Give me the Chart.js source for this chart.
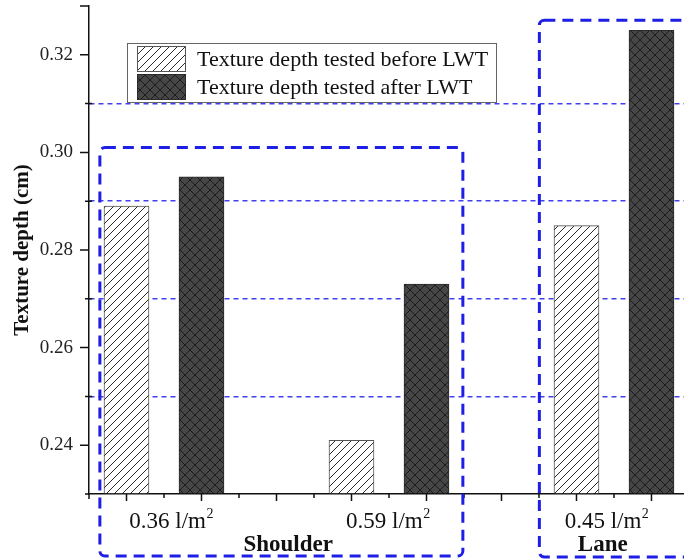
<!DOCTYPE html>
<html>
<head>
<meta charset="utf-8">
<script src="https://cdn.jsdelivr.net/npm/chart.js@4/dist/chart.umd.min.js"></script>
<style>
  html, body { margin: 0; padding: 0; background: #fff; overflow: hidden; }
  #wrap { width: 684px; height: 560px; position: relative; }
</style>
</head>
<body>
<div id="wrap"><canvas id="c" width="684" height="560"></canvas></div>
<script>
// Application rates, grouped by pavement location
const categories = ['0.36 l/m²', '0.59 l/m²', '0.45 l/m²'];
const groupNames = ['Shoulder', 'Lane'];
const seriesNames = ['Texture depth tested before LWT', 'Texture depth tested after LWT'];

// Texture depth (cm)
const beforeLWT = [0.289, 0.241, 0.285];
const afterLWT = [0.295, 0.273, 0.325];

// Value axis
const yLabelled = [0.24, 0.26, 0.28, 0.30, 0.32];
const yDashed = [0.25, 0.27, 0.29, 0.31];
const Y_MIN = 0.23, Y_MAX = 0.33;

// Horizontal layout in axis units (one unit per minor tick)
const X_MAX = 15.867;
const barUnit = (i, s) => 1 + 6 * i + 2 * s;          // before: 1,7,13  after: 3,9,15
const labelUnits = [2.19, 7.97, 13.8];
const groupUnits = [5.31, 13.7];

const SERIF = '"Liberation Serif", "Times New Roman", serif';
const canvas = document.getElementById('c');
const ctx = canvas.getContext('2d');

function hatchPattern() {
  const s = 8, t = document.createElement('canvas');
  t.width = t.height = s;
  const g = t.getContext('2d');
  g.fillStyle = '#ffffff';
  g.fillRect(0, 0, s, s);
  g.strokeStyle = '#2a2a2a';
  g.lineWidth = 1;
  g.beginPath();
  g.moveTo(0, s); g.lineTo(s, 0);
  g.moveTo(-2, 2); g.lineTo(2, -2);
  g.moveTo(s - 2, s + 2); g.lineTo(s + 2, s - 2);
  g.stroke();
  return ctx.createPattern(t, 'repeat');
}

function crossPattern() {
  const s = 10, t = document.createElement('canvas');
  t.width = t.height = s;
  const g = t.getContext('2d');
  g.fillStyle = '#464646';
  g.fillRect(0, 0, s, s);
  g.strokeStyle = '#1c1c1c';
  g.lineWidth = 1;
  g.beginPath();
  g.moveTo(0, 0); g.lineTo(s, s);
  g.moveTo(0, s); g.lineTo(s, 0);
  g.stroke();
  return ctx.createPattern(t, 'repeat');
}

const hatch = hatchPattern();
const cross = crossPattern();

function isIn(list, v) { return list.some(x => Math.abs(x - v) < 1e-6); }

function dashedBox(c, x1, y1, x2, y2, r) {
  c.save();
  c.strokeStyle = '#1e1ee6';
  c.lineWidth = 3;
  c.setLineDash([11, 7]);
  c.beginPath();
  c.roundRect(x1, y1, x2 - x1, y2 - y1, r);
  c.stroke();
  c.restore();
}

const decor = {
  id: 'decor',
  afterDraw(chart) {
    const c = chart.ctx;
    const xs = chart.scales.x, ys = chart.scales.y;
    const axisX = xs.left, axisY = ys.bottom;

    // tick marks on the value axis
    c.save();
    c.strokeStyle = '#111';
    c.lineWidth = 1.5;
    c.beginPath();
    ys.ticks.forEach(t => {
      const y = ys.getPixelForValue(t.value);
      if (isIn(yLabelled, t.value) || Math.abs(t.value - Y_MAX) < 1e-6) {
        c.moveTo(axisX - 9, y); c.lineTo(axisX, y);
      } else if (isIn(yDashed, t.value)) {
        c.moveTo(axisX - 4, y); c.lineTo(axisX + 3, y);
      }
    });
    // tick marks on the category axis
    for (let u = 1; u <= Math.floor(X_MAX); u++) {
      const x = xs.getPixelForValue(u);
      c.moveTo(x, axisY); c.lineTo(x, axisY + (u % 2 ? 7 : 4));
    }
    c.moveTo(axisX - 4, axisY); c.lineTo(axisX, axisY);
    c.moveTo(axisX, axisY); c.lineTo(axisX, axisY + 5);
    c.stroke();
    c.restore();

    // rate labels with superscript
    c.save();
    c.fillStyle = '#111';
    c.textBaseline = 'alphabetic';
    categories.forEach((lab, i) => {
      const main = lab.replace('²', '');
      c.font = '23px ' + SERIF;
      const w1 = c.measureText(main).width;
      c.font = '14px ' + SERIF;
      const w2 = c.measureText('2').width;
      const cx = xs.getPixelForValue(labelUnits[i]);
      const x0 = cx - (w1 + w2) / 2;
      c.textAlign = 'left';
      c.font = '23px ' + SERIF;
      c.fillText(main, x0, 528);
      c.font = '14px ' + SERIF;
      c.fillText('2', x0 + w1 + 0.5, 518);
    });
    // location labels
    c.font = 'bold 23px ' + SERIF;
    c.textAlign = 'center';
    groupNames.forEach((g, i) => {
      c.fillText(g, xs.getPixelForValue(groupUnits[i]), 551);
    });
    c.restore();

    // legend
    c.save();
    const lx = 127.5, ly = 43.5, lw = 369, lh = 59;
    c.fillStyle = '#fff';
    c.fillRect(lx, ly, lw, lh);
    c.strokeStyle = '#666';
    c.lineWidth = 1;
    c.strokeRect(lx, ly, lw, lh);
    chart.data.datasets.forEach((ds, i) => {
      const sy = ly + 2.5 + i * 28;
      c.fillStyle = ds.backgroundColor;
      c.fillRect(137, sy, 49, 26);
      c.strokeStyle = ds.borderColor;
      c.strokeRect(137.5, sy + 0.5, 48, 25);
      c.fillStyle = '#111';
      c.font = '22px ' + SERIF;
      c.textAlign = 'left';
      c.textBaseline = 'alphabetic';
      c.fillText(ds.label, 197, 66 + i * 27.5);
    });
    c.restore();

    // location frames
    dashedBox(c, xs.getPixelForValue(0.29), ys.getPixelForValue(0.301),
              xs.getPixelForValue(9.97), chart.height - 4, 5);
    dashedBox(c, xs.getPixelForValue(12.01), ys.getPixelForValue(0.3271),
              chart.width + 20, chart.height - 3, 5);
  }
};

new Chart(ctx, {
  type: 'bar',
  data: {
    datasets: [
      {
        label: seriesNames[0],
        data: beforeLWT.map((v, i) => ({ x: barUnit(i, 0), y: v })),
        backgroundColor: hatch,
        borderColor: '#555',
        borderWidth: 1,
        borderSkipped: 'start',
        barThickness: 45,
        grouped: false,
        base: Y_MIN
      },
      {
        label: seriesNames[1],
        data: afterLWT.map((v, i) => ({ x: barUnit(i, 1), y: v })),
        backgroundColor: cross,
        borderColor: '#2a2a2a',
        borderWidth: 1,
        borderSkipped: 'start',
        barThickness: 45,
        grouped: false,
        base: Y_MIN
      }
    ]
  },
  options: {
    responsive: false,
    animation: false,
    devicePixelRatio: 1,
    layout: { padding: { top: 6, left: 0, right: 0, bottom: 0 } },
    plugins: { legend: { display: false }, tooltip: { enabled: false } },
    scales: {
      x: {
        type: 'linear',
        offset: false,
        min: 0,
        max: X_MAX,
        grid: { display: false },
        border: { display: true, color: '#111', width: 1.5 },
        ticks: { display: false },
        afterFit(s) { s.height = 66; s.paddingLeft = 0; s.paddingRight = 0; }
      },
      y: {
        type: 'linear',
        min: Y_MIN,
        max: Y_MAX,
        afterBuildTicks(s) {
          const vals = [Y_MIN, ...yLabelled, ...yDashed, Y_MAX].sort((a, b) => a - b);
          s.ticks = vals.map(v => ({ value: v }));
        },
        afterFit(s) { s.width = 89; s.paddingTop = 0; s.paddingBottom = 0; },
        grid: {
          drawTicks: false,
          lineWidth: 1.5,
          color: c => (c.tick && isIn(yDashed, c.tick.value)) ? '#4040f0' : 'rgba(0,0,0,0)'
        },
        border: { display: true, color: '#111', width: 1.5, dash: [5, 4] },
        ticks: {
          padding: 16,
          color: '#222',
          font: { family: SERIF, size: 19 },
          callback: v => isIn(yLabelled, v) ? v.toFixed(2) : ''
        },
        title: {
          display: true,
          text: 'Texture depth (cm)',
          color: '#111',
          font: { family: SERIF, size: 21, weight: 'bold' },
          padding: { top: 10, bottom: 0 }
        }
      }
    }
  },
  plugins: [decor]
});
</script>
</body>
</html>
